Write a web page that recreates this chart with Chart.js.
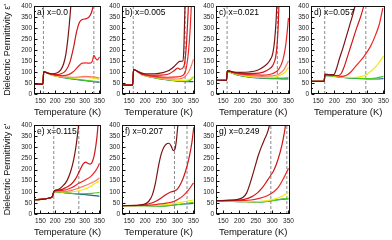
<!DOCTYPE html>
<html>
<head>
<meta charset="utf-8">
<script src="https://cdn.jsdelivr.net/npm/chart.js@4"></script>
<style>
  body { margin: 0; background: #fff; width: 392px; height: 240px; overflow: hidden; position: relative; }
  canvas { position: absolute; }
</style>
</head>
<body>
<script>
// temperature ticks and permittivity range
const xTicks = [150, 200, 250, 300, 350];
const yTicks = [0, 50, 100, 150, 200, 250, 300, 350, 400];
const panelLabels = ["a) x=0.0", "b) x=0.005", "c) x=0.021", "d) x=0.057", "e) x=0.115", "f) x=0.207", "g) x=0.249"];

// curve colours, lowest frequency first
const curveColors = ["#7a1414", "#d01616", "#ec2626", "#ff7a66", "#eeea10", "#48cc22", "#1c5e8e"];

// dashed marker temperatures per panel
const dashA = [160, 331];
const dashB = [163, 324];
const dashC = [162, 316];
const dashD = [170, 296];
const dashE = [195, 280];
const dashF = [291, 330];
const dashG = [296, 345];

// [T (K), eps'] for each curve: brown, red1, red2, red3, yellow, green, blue
const curvesA = [
  [[130,45],[158,45],[161,102],[175,95],[190,92],[205,95],[218,108],[228,135],[236,180],[242,240],[248,320],[253,400],[255,430]],
  [[130,45],[158,45],[161,101],[180,93],[200,88],[220,92],[235,105],[250,145],[262,210],[272,280],[282,325],[292,338],[305,342],[315,350],[323,370],[330,405]],
  [[130,45],[158,45],[161,100],[180,92],[200,86],[225,84],[245,88],[262,102],[278,125],[292,140],[305,141],[318,140],[326,150],[331,175],[337,162],[343,155],[350,168]],
  [[130,45],[158,45],[161,100],[190,88],[230,78],[270,76],[300,80],[330,78],[350,72]],
  [[130,45],[158,45],[161,100],[190,86],[230,77],[270,72],[290,75],[305,77],[325,73],[340,70],[350,66]],
  [[130,45],[158,45],[161,100],[190,85],[230,75],[270,67],[310,61],[350,55]],
  [[130,45],[158,45],[161,100],[190,85],[230,74],[270,66],[310,59],[350,53]]
];
const curvesB = [
  [[130,40],[161,40],[164,112],[180,100],[200,92],[230,92],[255,97],[275,108],[290,125],[300,140],[308,148],[317,150],[320,200],[322,300],[324,420]],
  [[130,40],[161,40],[164,110],[190,92],[220,86],[250,86],[275,92],[292,108],[302,118],[308,112],[314,115],[322,135],[328,220],[332,330],[335,420]],
  [[130,40],[161,40],[164,110],[190,90],[230,80],[270,76],[300,78],[318,85],[328,120],[335,200],[340,300],[344,420]],
  [[130,40],[161,40],[164,110],[190,89],[230,77],[270,70],[300,68],[320,75],[335,100],[345,135],[350,158]],
  [[130,40],[161,40],[164,110],[190,88],[230,75],[270,66],[300,62],[325,62],[340,68],[350,80]],
  [[130,40],[161,40],[164,110],[190,88],[230,74],[270,65],[300,60],[325,58],[340,63],[350,78]],
  [[130,40],[161,40],[164,110],[190,88],[230,73],[270,64],[300,58],[325,56],[350,56]]
];
const curvesC = [
  [[130,62],[160,62],[163,106],[180,100],[200,98],[230,100],[255,108],[275,125],[292,150],[302,185],[308,250],[312,330],[315,420]],
  [[130,62],[160,62],[163,105],[190,96],[230,93],[260,95],[285,108],[302,130],[311,170],[316,240],[319,320],[321,420]],
  [[130,62],[160,62],[163,104],[190,94],[230,88],[270,86],[300,92],[320,112],[333,155],[341,215],[346,280],[350,345]],
  [[130,62],[160,62],[163,104],[190,92],[230,84],[270,80],[300,82],[320,90],[335,108],[345,135],[350,150]],
  [[130,62],[160,62],[163,103],[190,90],[230,80],[270,76],[300,76],[325,85],[340,100],[350,122]],
  [[130,62],[160,62],[163,102],[190,88],[230,78],[270,74],[300,72],[330,72],[350,74]],
  [[130,62],[160,62],[163,102],[190,88],[230,77],[270,72],[300,70],[330,69],[350,68]]
];
const curvesD = [
  [[130,57],[168,57],[171,90],[185,88],[198,88],[205,110],[215,160],[225,205],[235,255],[245,305],[255,355],[264,405]],
  [[130,57],[168,57],[171,88],[190,86],[210,84],[220,92],[230,125],[242,180],[255,240],[268,300],[280,350],[290,400]],
  [[130,57],[168,57],[171,88],[200,84],[220,80],[235,84],[250,100],[270,135],[290,170],[310,215],[325,265],[338,320],[348,390]],
  null,
  [[130,57],[168,57],[171,86],[200,82],[230,77],[260,75],[285,80],[300,90],[315,108],[330,130],[342,155],[350,172]],
  [[130,57],[168,57],[171,85],[200,80],[240,74],[280,71],[310,70],[330,73],[350,80]],
  [[130,57],[168,57],[171,85],[200,80],[240,73],[280,70],[310,68],[330,68],[350,70]]
];
const curvesE = [
  [[130,64],[160,67],[180,72],[190,78],[194,95],[198,106],[210,110],[225,125],[240,150],[252,190],[262,240],[270,300],[276,360],[280,410]],
  [[130,64],[160,67],[180,72],[190,78],[194,95],[198,105],[215,108],[235,118],[255,135],[270,160],[283,195],[295,225],[303,233],[310,228],[318,224],[326,235],[334,275],[341,340],[346,410]],
  [[130,64],[160,67],[180,72],[190,78],[194,95],[198,104],[225,106],[255,118],[280,138],[300,152],[320,168],[335,190],[345,212],[350,228]],
  [[130,64],[160,67],[180,72],[190,78],[194,95],[198,103],[230,101],[265,110],[295,124],[320,138],[340,152],[350,162]],
  [[130,64],[160,67],[180,72],[190,78],[194,95],[198,102],[230,99],[265,101],[295,110],[320,124],[338,140],[350,148]],
  [[130,64],[160,67],[180,72],[190,78],[194,95],[198,101],[230,96],[265,92],[295,91],[325,93],[350,97]],
  [[130,64],[160,67],[180,72],[190,78],[194,95],[198,101],[230,96],[265,91],[295,88],[325,84],[350,80]]
];
const curvesF = [
  [[130,38],[170,39],[195,43],[210,55],[222,85],[232,140],[242,220],[250,270],[258,300],[266,315],[274,318],[281,305],[287,285],[292,290],[297,330],[301,390],[304,430]],
  [[130,38],[180,39],[210,45],[230,55],[250,72],[265,88],[278,98],[290,103],[300,112],[312,140],[325,190],[336,250],[345,320],[351,390]],
  [[130,38],[200,39],[240,44],[270,50],[290,57],[305,68],[320,85],[335,108],[350,140]],
  null,
  [[130,38],[200,38],[250,40],[290,47],[320,55],[350,63]],
  [[130,38],[200,37],[250,35],[290,40],[320,46],[350,52]],
  [[130,38],[200,37],[250,36],[290,41],[320,45],[350,48]]
];
const curvesG = [
  [[130,60],[170,62],[195,66],[210,74],[222,95],[235,150],[248,215],[258,265],[268,305],[278,340],[286,368],[292,400],[296,430]],
  [[130,60],[190,62],[215,66],[235,76],[255,95],[270,118],[285,150],[295,172],[305,195],[318,245],[330,310],[338,370],[343,420]],
  [[130,60],[200,60],[235,63],[260,70],[285,82],[305,100],[320,122],[335,160],[350,205]],
  null,
  [[130,58],[200,57],[250,55],[285,60],[310,68],[330,80],[350,97]],
  [[130,58],[200,56],[250,54],[285,57],[310,62],[330,67],[350,70]],
  [[130,58],[200,56],[250,54],[285,57],[310,63],[330,66],[350,68]]
];

const allCurves = [curvesA, curvesB, curvesC, curvesD, curvesE, curvesF, curvesG];
const allDashes = [dashA, dashB, dashC, dashD, dashE, dashF, dashG];

// layout of the plot boxes (px)
const colLeft = [34, 122, 216, 311];
const colRight = [103, 197, 292, 387];
const rowTop = [3, 125];
const rowBottom = [94, 214];
const rowCanvasTop = [0, 118];
const rowCanvasBottom = [118, 240];
const FONT = "'Liberation Sans', Arial, sans-serif";

const boxPlugin = {
  id: "box",
  afterDatasetsDraw(chart) {
    const { ctx, chartArea: a, scales } = chart;
    const x = scales.x, y = scales.y;
    ctx.save();
    ctx.strokeStyle = "#111";
    ctx.lineWidth = 1;
    const l = Math.round(a.left) + 0.5, r = Math.round(a.right) - 0.5;
    const t = Math.round(a.top) + 0.5, b = Math.round(a.bottom) - 0.5;
    ctx.strokeRect(l, t, r - l, b - t);
    ctx.beginPath();
    for (let v = 150; v <= 350; v += 25) {
      const px = Math.round(x.getPixelForValue(v)) + 0.5;
      const len = v % 50 === 0 ? 3 : 1.5;
      ctx.moveTo(px, b); ctx.lineTo(px, b - len);
    }
    for (let v = 0; v <= 400; v += 25) {
      const py = Math.round(y.getPixelForValue(v)) + 0.5;
      const len = v % 50 === 0 ? 3 : 1.5;
      ctx.moveTo(l, py); ctx.lineTo(l + len, py);
    }
    ctx.stroke();
    ctx.fillStyle = "#000";
    ctx.font = "8.5px " + FONT;
    ctx.textBaseline = "alphabetic";
    ctx.fillText(chart.options.plugins.box.label, a.left + 3, a.top + 9);
    ctx.restore();
  }
};

function makePanel(idx) {
  const row = idx < 4 ? 0 : 1;
  const col = idx < 4 ? idx : idx - 4;
  const yw = col === 0 ? 34 : 18;
  const padRight = 5;
  const left = colLeft[col] - yw;
  const width = colRight[col] - left + padRight;
  const top = rowCanvasTop[row];
  const height = rowCanvasBottom[row] - top;

  const cv = document.createElement("canvas");
  cv.width = width; cv.height = height;
  cv.style.left = left + "px"; cv.style.top = top + "px";
  cv.style.width = width + "px"; cv.style.height = height + "px";
  document.body.appendChild(cv);

  const datasets = [];
  allCurves[idx].forEach((pts, i) => {
    if (!pts) return;
    datasets.push({
      data: pts.map(p => ({ x: p[0], y: p[1] })),
      borderColor: curveColors[i],
      borderWidth: 1.2,
      pointRadius: 0,
      cubicInterpolationMode: "monotone",
      fill: false
    });
  });
  allDashes[idx].forEach(t => {
    datasets.push({
      data: [{ x: t, y: 0 }, { x: t, y: 400 }],
      borderColor: "#8a8a8a",
      borderWidth: 1,
      borderDash: [3, 2],
      pointRadius: 0,
      fill: false
    });
  });

  new Chart(cv, {
    type: "line",
    data: { datasets },
    options: {
      responsive: false,
      animation: false,
      events: [],
      layout: { padding: { top: rowTop[row] - top, right: padRight, left: 0, bottom: 0 } },
      plugins: { legend: { display: false }, tooltip: { enabled: false }, box: { label: panelLabels[idx] } },
      scales: {
        x: {
          type: "linear",
          min: 128, max: 356,
          afterBuildTicks: s => { s.ticks = xTicks.map(v => ({ value: v })); },
          afterFit: s => { s.height = rowCanvasBottom[row] - rowBottom[row]; },
          grid: { display: false, drawTicks: false },
          border: { display: false },
          ticks: { font: { family: FONT, size: 6.5 }, color: "#222", padding: 3, maxRotation: 0, autoSkip: false },
          title: { display: true, text: "Temperature (K)", font: { family: FONT, size: 9.5 }, color: "#111", padding: { top: 0, bottom: row === 0 ? 0 : 2 } }
        },
        y: {
          min: 0, max: 400,
          afterBuildTicks: s => { s.ticks = yTicks.map(v => ({ value: v })); },
          afterFit: s => { s.width = yw; },
          grid: { display: false, drawTicks: false },
          border: { display: false },
          ticks: { font: { family: FONT, size: 6.5 }, color: "#222", padding: 2, autoSkip: false },
          title: { display: col === 0, text: "Dielectric Permittivity ε'", font: { family: FONT, size: 9 }, color: "#111", padding: { top: 2, bottom: 1 } }
        }
      }
    },
    plugins: [boxPlugin]
  });
}

for (let i = 0; i < 7; i++) makePanel(i);
</script>
</body>
</html>
